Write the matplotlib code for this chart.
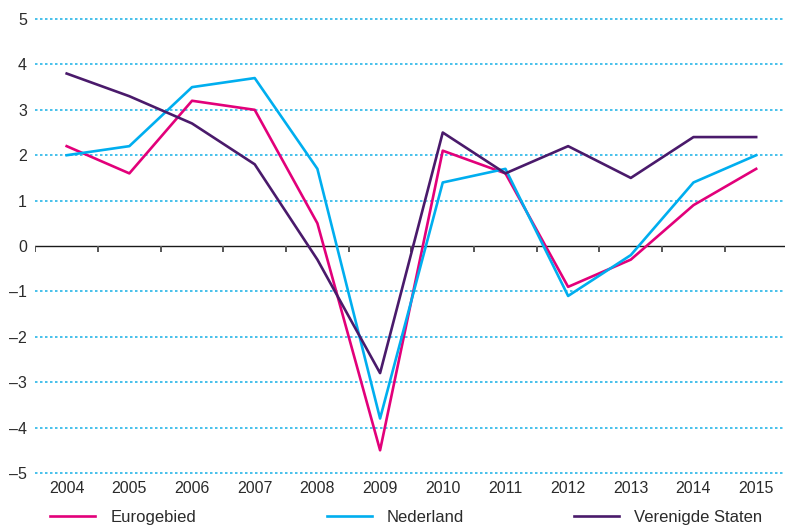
import matplotlib.pyplot as plt

plt.rcParams['font.family'] = ['Liberation Sans', 'DejaVu Sans']

# data
years = [2004, 2005, 2006, 2007, 2008, 2009, 2010, 2011, 2012, 2013, 2014, 2015]
eurogebied = [2.2, 1.6, 3.2, 3.0, 0.5, -4.5, 2.1, 1.6, -0.9, -0.3, 0.9, 1.7]
nederland = [2.0, 2.2, 3.5, 3.7, 1.7, -3.8, 1.4, 1.7, -1.1, -0.2, 1.4, 2.0]
verenigde_staten = [3.8, 3.3, 2.7, 1.8, -0.3, -2.8, 2.5, 1.6, 2.2, 1.5, 2.4, 2.4]
y_ticks = [-5, -4, -3, -2, -1, 0, 1, 2, 3, 4, 5]

c_euro = '#E2007A'
c_nl = '#00AEEF'
c_vs = '#4A1A6B'
text_color = '#2b2b2b'

fig = plt.figure(figsize=(7.85, 5.26), dpi=100)
ax = fig.add_axes([0.045, 0.0922, 0.955, 0.8802])

# dotted grid lines (no line at zero)
for v in y_ticks:
    if v != 0:
        ax.axhline(v, color='#29B6E8', lw=1.2, linestyle=(0, (1.5, 1.5)), zorder=1)

# zero line with ticks between the years
ax.axhline(0, color='#1a1a1a', lw=1.0, zorder=2)
tick_pos = [y - 0.5 for y in years]
ax.vlines(tick_pos, -0.14, 0, color='#555555', lw=1.4, zorder=2)

l1, = ax.plot(years, eurogebied, color=c_euro, lw=1.9, zorder=3)
l2, = ax.plot(years, nederland, color=c_nl, lw=1.9, zorder=3)
l3, = ax.plot(years, verenigde_staten, color=c_vs, lw=1.9, zorder=4)

ax.set_xlim(2003.5, 2015.46)
ax.set_ylim(-5.1, 5.1)
ax.set_xticks(years)
ax.set_xticklabels([str(y) for y in years])
ax.set_yticks(y_ticks)
ax.set_yticklabels([str(v).replace('-', '\u2013') for v in y_ticks])
ax.tick_params(axis='both', length=0, labelsize=11.5, colors=text_color)
ax.tick_params(axis='x', pad=2.5)
ax.tick_params(axis='y', pad=6)
for s in ax.spines.values():
    s.set_visible(False)

# legend entries placed one by one
for line, label, x in [(l1, 'Eurogebied', 0.064), (l2, 'Nederland', 0.416),
                       (l3, 'Verenigde Staten', 0.731)]:
    fig.legend(handles=[line], labels=[label], loc='center left',
               bbox_to_anchor=(x, 0.016), frameon=False, fontsize=12,
               handlelength=2.7, handletextpad=0.9, borderpad=0,
               borderaxespad=0, labelcolor=text_color)

fig.savefig('out.png', dpi=100)
